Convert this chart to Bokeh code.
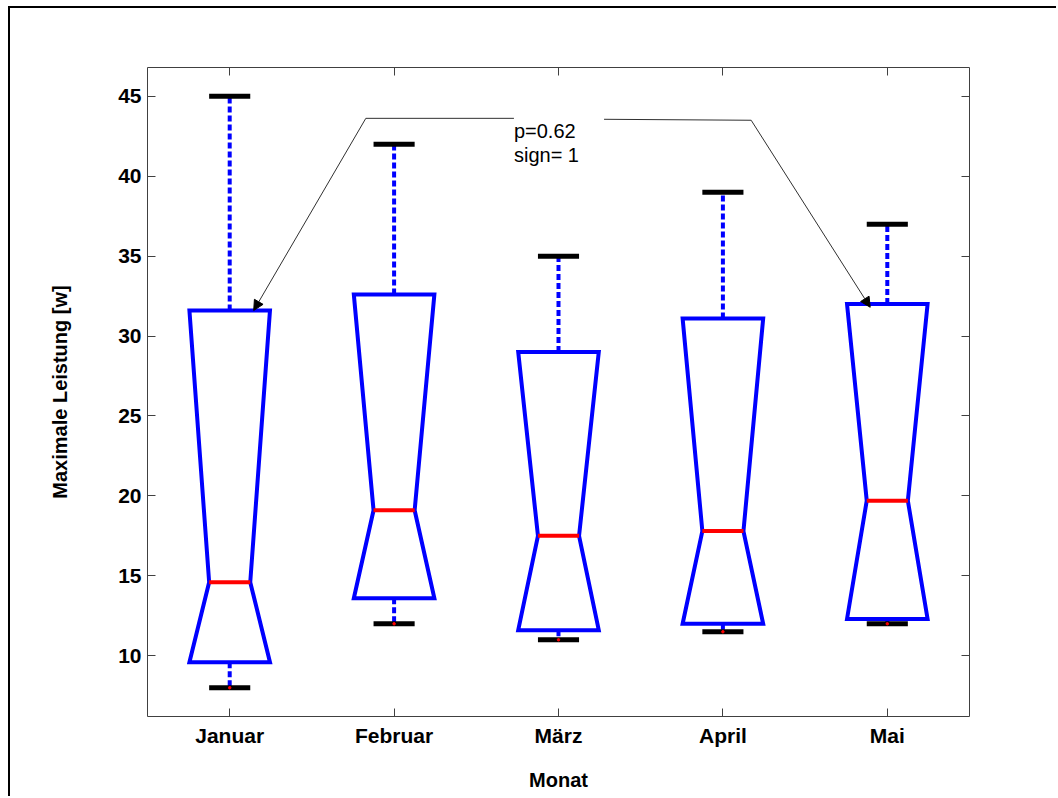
from bokeh.plotting import figure
from bokeh.models import (FixedTicker, LinearAxis, Label, Arrow, NormalHead)
from bokeh.embed import file_html
from bokeh.resources import INLINE

# ---- data ----
months = ["Januar", "Februar", "März", "April", "Mai"]
whisker_high = [45.0, 42.0, 35.0, 39.0, 37.0]
q3 = [31.6, 32.6, 29.0, 31.1, 32.0]
median = [14.6, 19.1, 17.5, 17.8, 19.7]
q1 = [9.6, 13.6, 11.6, 12.0, 12.3]
whisker_low = [8.0, 12.0, 11.0, 11.5, 12.0]
y_ticks = [10, 15, 20, 25, 30, 35, 40, 45]

annot_text = ["p=0.62", "sign= 1"]
# annotation line path (data units): left end, text gap, right end
annot_left = (1.828, 43.62)
annot_gap_l = (2.729, 43.62)
annot_gap_r = (3.277, 43.56)
annot_right = (4.172, 43.50)
arrow_tip_left = (1.146, 31.6)
arrow_tip_right = (4.896, 31.8)

# ---- styling ----
FONT = "Liberation Sans"
BLUE = "#0000ff"
RED = "#ff0000"
W = 0.245      # box half width
WN = 0.125     # notch / cap half width

pos = list(range(1, len(months) + 1))

p = figure(width=1048, height=790, output_backend="svg", toolbar_location=None,
           x_range=(0.5, 5.5), y_range=(6.2, 46.8),
           min_border_left=137, min_border_right=89,
           min_border_top=59, min_border_bottom=82,
           x_axis_label="Monat", y_axis_label="Maximale Leistung [w]")
p.styles = {"border-top": "2px solid black", "border-left": "2px solid black",
            "margin-left": "8px", "margin-top": "6px"}
p.grid.visible = False
p.outline_line_color = "#404040"
p.outline_line_width = 1
p.background_fill_color = "white"
p.border_fill_color = "white"

bottom_axis = p.xaxis[0]
left_axis = p.yaxis[0]

# whiskers
xs_w, y0_w, y1_w = [], [], []
for x, a, b, c, d in zip(pos, q3, whisker_high, q1, whisker_low):
    xs_w += [x, x]
    y0_w += [a, c]
    y1_w += [b, d]
p.segment(x0=xs_w, y0=y0_w, x1=xs_w, y1=y1_w, line_color=BLUE, line_width=4,
          line_dash="6 3")

# notched boxes
bxs, bys = [], []
for x, lo, md, hi in zip(pos, q1, median, q3):
    bxs.append([x - W, x - WN, x - W, x + W, x + WN, x + W, x - W])
    bys.append([lo, md, hi, hi, md, lo, lo])
p.patches(xs=bxs, ys=bys, fill_color=None, line_color=BLUE, line_width=4,
          line_join="miter")

# medians
p.segment(x0=[x - WN for x in pos], y0=median, x1=[x + WN for x in pos], y1=median,
          line_color=RED, line_width=4)

# caps
p.segment(x0=[x - WN for x in pos], y0=whisker_high, x1=[x + WN for x in pos],
          y1=whisker_high, line_color="black", line_width=5)
p.segment(x0=[x - WN for x in pos], y0=whisker_low, x1=[x + WN for x in pos],
          y1=whisker_low, line_color="black", line_width=5)
p.scatter(x=pos, y=whisker_low, size=2.5, color=RED)

# annotation
p.line(x=[annot_left[0], annot_gap_l[0]], y=[annot_left[1], annot_gap_l[1]],
       line_color="#303030", line_width=1)
p.line(x=[annot_gap_r[0], annot_right[0]], y=[annot_gap_r[1], annot_right[1]],
       line_color="#303030", line_width=1)
for (sx, sy), (ex, ey) in [(annot_left, arrow_tip_left), (annot_right, arrow_tip_right)]:
    p.add_layout(Arrow(end=NormalHead(size=10, fill_color="black", line_color="black",
                                      line_width=1),
                       x_start=sx, y_start=sy, x_end=ex, y_end=ey,
                       line_color="#303030", line_width=1))
p.add_layout(Label(x=annot_gap_l[0], y=43.50, text=annot_text[0],
                   text_font=FONT, text_font_size="20px", text_baseline="top",
                   text_color="black"))
p.add_layout(Label(x=annot_gap_l[0], y=43.50 - 24 / 15.97, text=annot_text[1],
                   text_font=FONT, text_font_size="20px", text_baseline="top",
                   text_color="black"))

# axes
bottom_axis.ticker = FixedTicker(ticks=pos)
bottom_axis.major_label_overrides = {i: m for i, m in zip(pos, months)}
left_axis.ticker = FixedTicker(ticks=y_ticks)

top_axis = LinearAxis(ticker=FixedTicker(ticks=pos))
right_axis = LinearAxis(ticker=FixedTicker(ticks=y_ticks))
p.add_layout(top_axis, "above")
p.add_layout(right_axis, "right")

for ax in [bottom_axis, left_axis, top_axis, right_axis]:
    ax.axis_line_color = None
    ax.major_tick_in = 8
    ax.major_tick_out = 0
    ax.major_tick_line_color = "#404040"
    ax.major_tick_line_width = 1
    ax.minor_tick_line_color = None
    ax.major_label_text_font = FONT
    ax.major_label_text_font_style = "bold"
    ax.major_label_text_font_size = "21px"
    ax.major_label_text_color = "black"
    ax.axis_label_text_font = FONT
    ax.axis_label_text_font_style = "bold"
    ax.axis_label_text_font_size = "20px"
    ax.axis_label_text_color = "black"

for ax in [top_axis, right_axis]:
    ax.major_label_text_font_size = "0px"
    ax.major_label_standoff = 0

bottom_axis.major_label_standoff = 7
bottom_axis.axis_label_standoff = 19
left_axis.major_label_standoff = 6
left_axis.axis_label_standoff = 44

open("out.html", "w").write(file_html(p, INLINE))
